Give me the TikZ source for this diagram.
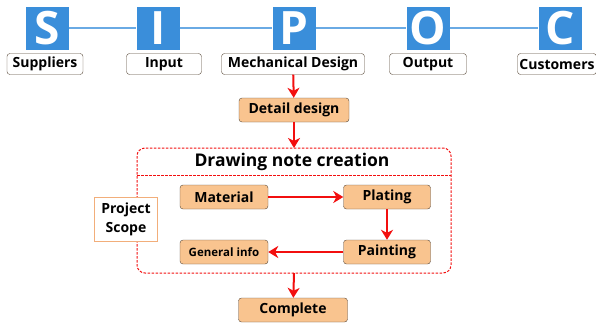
\documentclass[tikz,border=0pt]{standalone}
\usepackage{fontspec}
\setmainfont{Open Sans}
\usepackage{tikz}
\usetikzlibrary{arrows.meta,positioning,calc}
\definecolor{cBlue}{HTML}{3A8EDA}
\definecolor{cLine}{HTML}{6AAAE4}
\definecolor{cFill}{HTML}{F9C48F}
\definecolor{cEdge}{HTML}{5A4A3A}
\definecolor{cRed}{HTML}{F20F0F}
\definecolor{cScope}{HTML}{F2AE7A}

\begin{document}
\begin{tikzpicture}[x=1pt, y=-1pt, font=\bfseries,
  letter/.style={fill=cBlue, text=white, minimum width=43pt, minimum height=43pt,
    inner sep=0pt, font=\bfseries\fontsize{46}{46}\selectfont},
  tag/.style={draw=cEdge, rounded corners=3pt, fill=white, minimum height=21pt,
    inner sep=0pt, font=\bfseries\fontsize{14}{15}\selectfont},
  task/.style={draw=cEdge, rounded corners=3pt, fill=cFill, minimum height=24pt,
    inner sep=0pt, font=\bfseries\fontsize{14}{15}\selectfont},
  flow/.style={-{Stealth[length=10pt,width=12pt,inset=3pt]}, cRed, line width=2pt},
  frame/.style={draw=cRed, line width=1pt, dash pattern=on 2.5pt off 1.5pt}]
  \useasboundingbox (0,0) rectangle (596,325);

  % SIPOC header
  \node[letter] (s) at (47,28) {S};
  \node[letter] (i) at (158,28) {I};
  \node[letter] (p) at (294,28) {P};
  \node[letter] (o) at (428,28) {O};
  \node[letter] (c) at (560,28) {C};
  \draw[cLine, line width=1.5pt] (s.east) -- (i.west) (i.east) -- (p.west)
    (p.east) -- (o.west) (o.east) -- (c.west);

  \node[tag, minimum width=76pt] (sup) at (45,64) {Suppliers};
  \node[tag, minimum width=75pt] (inp) at (164,64) {Input};
  \node[tag, minimum width=143pt] (mech) at (293,64) {Mechanical Design};
  \node[tag, minimum width=77pt] (out) at (428,64) {Output};
  \node[tag, minimum width=79pt] (cus) at (557,64) {Customers};

  % detail design and drawing notes
  \node[task, minimum width=110pt] (detail) at (294,110) {Detail design};
  \draw[flow] (mech) -- (detail);

  \draw[frame, rounded corners=8pt] (137,148) rectangle (451,273);
  \draw[frame] (137,175) -- (451,175);
  \node[font=\bfseries\fontsize{17.5}{18}\selectfont] (title) at (292,162) {Drawing note creation};
  \coordinate (top) at (294,148);
  \coordinate (bot) at (294,273);
  \draw[flow] (detail) -- (top);

  \node[task, minimum width=88pt] (mat) at (224,197) {Material};
  \node[task, minimum width=87pt] (plat) at (387,197) {Plating};
  \node[task, minimum width=87pt] (paint) at (387,252) {Painting};
  \node[task, minimum width=88pt, font=\bfseries\fontsize{11.5}{12}\selectfont] (gen) at (224,252) {General info};
  \draw[flow] (mat) -- (plat);
  \draw[flow] (plat) -- (paint);
  \draw[flow] (paint) -- (gen);

  \node[draw=cScope, fill=white, line width=0.8pt, minimum width=63pt, minimum height=44pt,
    align=center, inner sep=0pt, font=\bfseries\fontsize{14}{19}\selectfont] (scope) at (126,219) {Project\\Scope};

  \node[task, minimum width=109pt] (done) at (293,310) {Complete};
  \draw[flow] (bot) -- (done);
\end{tikzpicture}
\end{document}
